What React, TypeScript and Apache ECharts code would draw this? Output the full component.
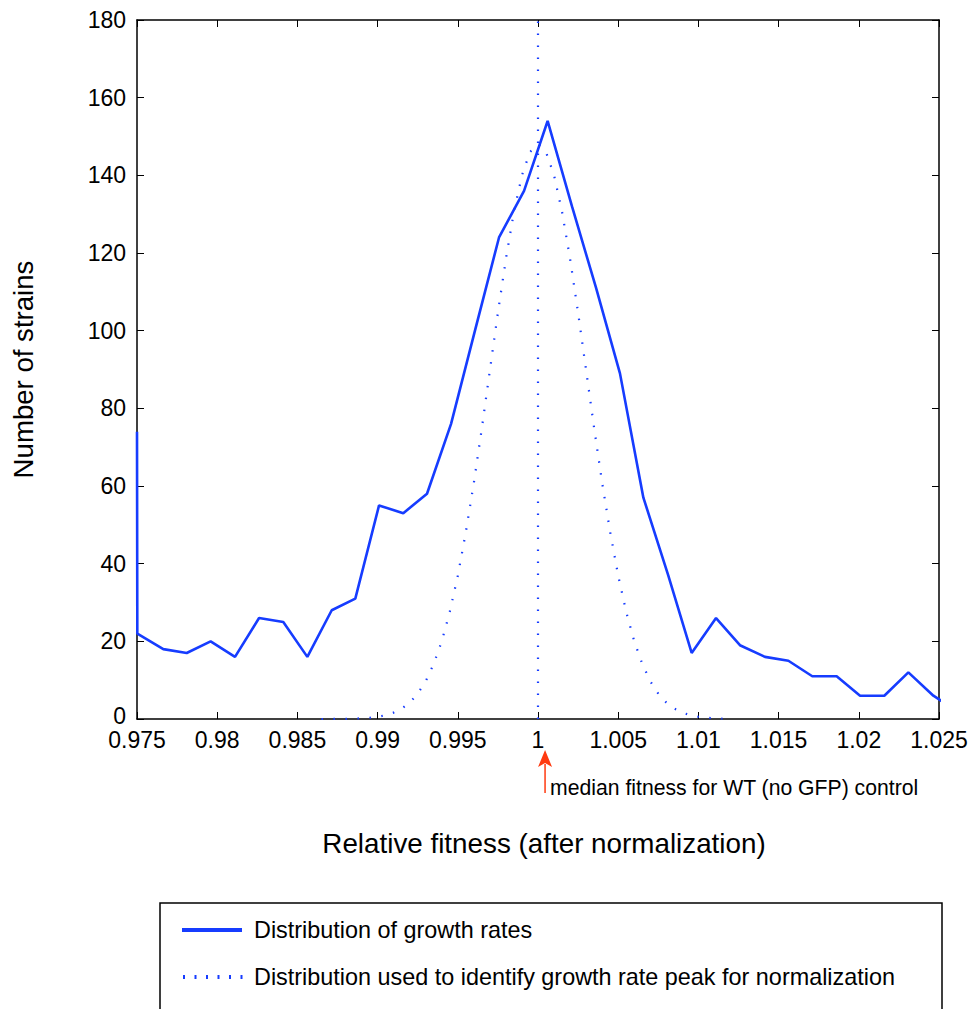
import React, { useEffect, useRef } from "react";
import * as echarts from "echarts";

// ---- data ----
const xMin = 0.975;
const xMax = 1.025;
const xInterval = 0.005;
const yMin = 0;
const yMax = 180;
const yInterval = 20;

// Distribution of growth rates (solid)
const growthX = [
  0.975, 0.97502, 0.97664, 0.9781, 0.97959, 0.98111, 0.98261, 0.98412, 0.98562,
  0.98714, 0.98861, 0.99009, 0.9916, 0.99308, 0.99458, 0.99607, 0.99757, 0.99913,
  1.0006, 1.00212, 1.00362, 1.00511, 1.00657, 1.00812, 1.00958, 1.0111, 1.01259,
  1.01415, 1.01561, 1.0171, 1.01862, 1.02008, 1.02159, 1.02309, 1.02465, 1.02615,
];
const growthY = [
  74, 22, 18, 17, 20, 16, 26, 25, 16, 28, 31, 55, 53, 58, 76, 100, 124, 136, 154,
  132, 111, 89, 57, 37, 17, 26, 19, 16, 15, 11, 11, 6, 6, 12, 6, 2,
];

// Distribution used to identify growth rate peak (dotted bell)
const peakX = [
  0.9865, 0.987, 0.9875, 0.988, 0.9885, 0.989, 0.9895, 0.99, 0.9905, 0.991, 0.9915,
  0.992, 0.9925, 0.993, 0.9935, 0.994, 0.9945, 0.995, 0.9955, 0.996, 0.9965, 0.997,
  0.9975, 0.998, 0.9985, 0.999, 0.9995, 1.0, 1.0005, 1.001, 1.0015, 1.002, 1.0025,
  1.003, 1.0035, 1.004, 1.0045, 1.005, 1.0055, 1.006, 1.0065, 1.007, 1.0075, 1.008,
  1.0085, 1.009, 1.0095, 1.01, 1.0105, 1.011, 1.0115,
];
const peakY = [
  0.0, 0.01, 0.03, 0.05, 0.09, 0.18, 0.32, 0.57, 0.98, 1.64, 2.67, 4.22, 6.5, 9.73,
  14.2, 20.0, 27.6, 36.9, 48.1, 60.8, 74.9, 89.8, 104.6, 118.5, 130.6, 140.0, 146.0,
  148.0, 146.0, 140.0, 130.6, 118.5, 104.6, 89.8, 74.9, 60.8, 48.1, 36.9, 27.6, 20.0,
  14.2, 9.73, 6.5, 4.22, 2.67, 1.64, 0.98, 0.57, 0.32, 0.18, 0.09,
];

// Vertical dotted line at the normalization peak
const peakLineX = [1.0, 1.0];
const peakLineY = [0, 180];

// Median fitness for WT control (red arrow)
const medianWT = 1.00044;

const legendLabels = [
  "Distribution of growth rates",
  "Distribution used to identify growth rate peak for normalization",
];
const annotationText = "median fitness for WT (no GFP) control";
const xTitle = "Relative fitness (after normalization)";
const yTitle = "Number of strains";

const BLUE = "#163cff";
const RED = "#ff3a10";
const FONT = "Liberation Sans, Arial, Helvetica, sans-serif";

function zip(xs: number[], ys: number[]) {
  return xs.map((x, i) => [x, ys[i]]);
}

export default function App() {
  const ref = useRef<HTMLDivElement>(null);

  useEffect(() => {
    if (!ref.current) return;
    const chart = echarts.init(ref.current, undefined, { renderer: "svg" });

    const axisCommon = {
      min: xMin,
      max: xMax,
      interval: xInterval,
    };

    const option: any = {
      animation: false,
      backgroundColor: "#ffffff",
      grid: { left: 137, top: 20, width: 802, height: 699, containLabel: false },
      xAxis: [
        {
          type: "value",
          position: "bottom",
          ...axisCommon,
          name: xTitle,
          nameLocation: "middle",
          nameGap: 110,
          nameTextStyle: { fontSize: 27.8, color: "#000", fontFamily: FONT, padding: [0, 0, 0, 12] },
          axisLine: { show: true, onZero: false, lineStyle: { color: "#000", width: 1.5 } },
          axisTick: { show: true, inside: true, length: 7, lineStyle: { color: "#000", width: 1 } },
          axisLabel: {
            show: true,
            margin: 9,
            fontSize: 23,
            color: "#000",
            fontFamily: FONT,
            formatter: (v: number) => String(parseFloat(v.toFixed(4))),
          },
          splitLine: { show: false },
        },
        {
          type: "value",
          position: "top",
          ...axisCommon,
          axisLine: { show: true, onZero: false, lineStyle: { color: "#000", width: 1.5 } },
          axisTick: { show: true, inside: true, length: 7, lineStyle: { color: "#000", width: 1 } },
          axisLabel: { show: false },
          splitLine: { show: false },
        },
      ],
      yAxis: [
        {
          type: "value",
          position: "left",
          min: yMin,
          max: yMax,
          interval: yInterval,
          name: yTitle,
          nameLocation: "middle",
          nameGap: 100,
          nameRotate: 90,
          nameTextStyle: { fontSize: 27.6, color: "#000", fontFamily: FONT },
          axisLine: { show: true, onZero: false, lineStyle: { color: "#000", width: 1.5 } },
          axisTick: { show: true, inside: true, length: 7, lineStyle: { color: "#000", width: 1 } },
          axisLabel: {
            show: true,
            margin: 11,
            fontSize: 23,
            color: "#000",
            fontFamily: FONT,
            formatter: (v: number) => (v === 0 ? "{z|0}" : String(v)),
            rich: {
              z: { fontSize: 23, color: "#000", fontFamily: FONT, padding: [0, 0, 7, 0] },
            },
          },
          splitLine: { show: false },
        },
        {
          type: "value",
          position: "right",
          min: yMin,
          max: yMax,
          interval: yInterval,
          axisLine: { show: true, onZero: false, lineStyle: { color: "#000", width: 1.5 } },
          axisTick: { show: true, inside: true, length: 7, lineStyle: { color: "#000", width: 1 } },
          axisLabel: { show: false },
          splitLine: { show: false },
        },
      ],
      series: [
        {
          name: legendLabels[1],
          type: "line",
          data: zip(peakX, peakY),
          showSymbol: false,
          symbol: "none",
          clip: true,
          lineStyle: { color: BLUE, width: 2.2, type: [1.5, 10.5] },
          z: 2,
        },
        {
          name: legendLabels[1] + " (peak)",
          type: "line",
          data: zip(peakLineX, peakLineY),
          showSymbol: false,
          symbol: "none",
          clip: true,
          lineStyle: { color: BLUE, width: 2.2, type: [1.5, 10.5] },
          z: 2,
        },
        {
          name: legendLabels[0],
          type: "line",
          data: zip(growthX, growthY),
          showSymbol: false,
          symbol: "none",
          clip: true,
          lineStyle: { color: BLUE, width: 2.6 },
          z: 3,
        },
      ],
    };

    chart.setOption(option);

    const ax = chart.convertToPixel({ xAxisIndex: 0 }, medianWT) as number;
    const y0 = chart.convertToPixel({ yAxisIndex: 0 }, 0) as number;
    const tipY = y0 + 31;

    chart.setOption({
      graphic: [
        // red arrow
        {
          type: "line",
          silent: true,
          shape: { x1: ax, y1: tipY + 14, x2: ax, y2: tipY + 43 },
          style: { stroke: RED, lineWidth: 1.5 },
        },
        {
          type: "polygon",
          silent: true,
          shape: {
            points: [
              [ax, tipY],
              [ax - 7, tipY + 17],
              [ax, tipY + 13],
              [ax + 7, tipY + 17],
            ],
          },
          style: { fill: RED },
        },
        {
          type: "text",
          silent: true,
          x: ax + 5,
          y: tipY + 37,
          style: {
            text: annotationText,
            fontSize: 21.2,
            fill: "#000",
            fontFamily: FONT,
            verticalAlign: "middle",
            align: "left",
          },
        },
        // legend box
        {
          type: "rect",
          silent: true,
          shape: { x: 160, y: 903, width: 782, height: 140 },
          style: { fill: "#fff", stroke: "#000", lineWidth: 1.5 },
        },
        {
          type: "line",
          silent: true,
          shape: { x1: 182, y1: 930, x2: 242, y2: 930 },
          style: { stroke: BLUE, lineWidth: 4 },
        },
        {
          type: "text",
          silent: true,
          x: 254,
          y: 930,
          style: {
            text: legendLabels[0],
            fontSize: 23.4,
            fill: "#000",
            fontFamily: FONT,
            verticalAlign: "middle",
          },
        },
        {
          type: "line",
          silent: true,
          shape: { x1: 183, y1: 977, x2: 243, y2: 977 },
          style: { stroke: BLUE, lineWidth: 4, lineDash: [2, 9.5] },
        },
        {
          type: "text",
          silent: true,
          x: 254,
          y: 977,
          style: {
            text: legendLabels[1],
            fontSize: 23.4,
            fill: "#000",
            fontFamily: FONT,
            verticalAlign: "middle",
          },
        },
      ],
    });

    return () => chart.dispose();
  }, []);

  return (
    <div
      ref={ref}
      style={{ position: "fixed", left: 0, top: 0, width: 979, height: 1009, background: "#fff" }}
    />
  );
}
